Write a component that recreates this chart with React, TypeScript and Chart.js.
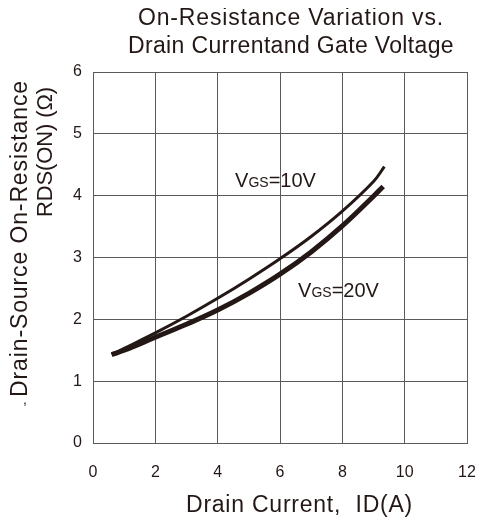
import React, { useEffect, useRef } from "react";
import { Chart, registerables } from "chart.js";

Chart.register(...registerables);

const titleLines = ["On-Resistance Variation vs.", "Drain Currentand Gate Voltage"];
const xTitle = "Drain Current,  ID(A)";
const yTitleLines = ["Drain-Source On-Resistance", "RDS(ON) (Ω)"];

const xTicks = [0, 2, 4, 6, 8, 10, 12];
const yTicks = [0, 1, 2, 3, 4, 5, 6];

const current10 = [0.6, 1, 2, 3, 4, 5, 6, 7, 8, 9, 9.35];
const rds10 = [1.43, 1.53, 1.78, 2.05, 2.34, 2.65, 2.98, 3.34, 3.75, 4.23, 4.47];
const current20 = [0.6, 1, 2, 3, 4, 5, 6, 7, 8, 9, 9.31];
const rds20 = [1.43, 1.5, 1.71, 1.92, 2.15, 2.42, 2.73, 3.09, 3.51, 3.99, 4.15];

const seriesLabels = ["10V", "20V"];
// label anchors (data coords)
const labelX = [4.56, 6.58];
const labelY = [4.14, 2.36];

const INK = "#231815";
const GRID = "#5a5a5a";
const FONT = '"Liberation Sans", Arial, sans-serif';

const W = 470;
const H = 512;

function fitText(ctx: CanvasRenderingContext2D, text: string, size: number, targetW: number) {
  ctx.font = `${size}px ${FONT}`;
  (ctx as any).letterSpacing = "0px";
  const w = ctx.measureText(text).width;
  const sp = (targetW - w) / text.length;
  (ctx as any).letterSpacing = `${sp}px`;
}

const textPlugin = {
  id: "textPlugin",
  afterDraw(chart: any) {
    const ctx: CanvasRenderingContext2D = chart.ctx;
    const o = 8; // page offset of canvas
    ctx.save();
    ctx.fillStyle = INK;
    ctx.textBaseline = "alphabetic";
    ctx.textAlign = "center";
    // title
    fitText(ctx, titleLines[0], 23, 306);
    ctx.fillText(titleLines[0], 290 - o + 1, 25 - o);
    fitText(ctx, titleLines[1], 23, 326);
    ctx.fillText(titleLines[1], 290 - o + 1, 53 - o);
    // x title
    fitText(ctx, xTitle, 23, 227);
    ctx.fillText(xTitle, 298.5 - o + 1, 512 - o);
    // y titles
    const yt = [
      { t: yTitleLines[0], size: 23, w: 317, bx: 27, cy: 238.5 },
      { t: yTitleLines[1], size: 22, w: 130, bx: 52, cy: 152 },
    ];
    for (const y of yt) {
      ctx.save();
      ctx.translate(y.bx - o, y.cy - o);
      ctx.rotate(-Math.PI / 2);
      fitText(ctx, y.t, y.size, y.w);
      ctx.fillText(y.t, 0, 0);
      ctx.restore();
    }
    // stray mark
    ctx.font = `14px ${FONT}`;
    (ctx as any).letterSpacing = "0px";
    ctx.fillText(",", 25 - o, 404 - o);

    // VGS labels
    const xs = chart.scales.x;
    const ys = chart.scales.y;
    ctx.textAlign = "left";
    (ctx as any).letterSpacing = "0px";
    for (let i = 0; i < seriesLabels.length; i++) {
      let px = xs.getPixelForValue(labelX[i]);
      const py = ys.getPixelForValue(labelY[i]);
      ctx.font = `20px ${FONT}`;
      ctx.fillText("V", px, py);
      px += ctx.measureText("V").width;
      ctx.font = `14px ${FONT}`;
      ctx.fillText("GS", px, py);
      px += ctx.measureText("GS").width;
      ctx.font = `20px ${FONT}`;
      ctx.fillText("=" + seriesLabels[i], px, py);
    }
    ctx.restore();
  },
};

export default function App() {
  const ref = useRef<HTMLCanvasElement>(null);
  useEffect(() => {
    if (!ref.current) return;
    const chart = new Chart(ref.current, {
      type: "line",
      data: {
        datasets: [
          {
            label: "VGS=10V",
            data: current10.map((x, i) => ({ x, y: rds10[i] })),
            borderColor: INK,
            borderWidth: 3,
            pointRadius: 0,
            tension: 0.4,
            borderCapStyle: "butt",
            fill: false,
          },
          {
            label: "VGS=20V",
            data: current20.map((x, i) => ({ x, y: rds20[i] })),
            borderColor: INK,
            borderWidth: 5,
            pointRadius: 0,
            tension: 0.4,
            borderCapStyle: "butt",
            fill: false,
          },
        ],
      },
      options: {
        animation: false,
        responsive: false,
        layout: { padding: { top: 64, right: 11, left: 0, bottom: 0 } },
        plugins: { legend: { display: false }, tooltip: { enabled: false }, title: { display: false } },
        scales: {
          x: {
            type: "linear",
            min: xTicks[0],
            max: xTicks[xTicks.length - 1],
            afterBuildTicks(scale: any) {
              scale.ticks = xTicks.map((v) => ({ value: v }));
            },
            ticks: { color: INK, font: { family: FONT, size: 16 }, padding: 20, maxRotation: 0, autoSkip: false },
            grid: { color: GRID, lineWidth: 1, drawTicks: false },
            border: { color: GRID, width: 1 },
            afterFit(scale: any) {
              scale.height = 77;
              scale.paddingLeft = 0;
              scale.paddingRight = 0;
            },
          },
          y: {
            type: "linear",
            min: yTicks[0],
            max: yTicks[yTicks.length - 1],
            afterBuildTicks(scale: any) {
              scale.ticks = yTicks.map((v) => ({ value: v }));
            },
            ticks: { color: INK, font: { family: FONT, size: 16 }, padding: 11, autoSkip: false },
            grid: { color: GRID, lineWidth: 1, drawTicks: false },
            border: { color: GRID, width: 1 },
            afterFit(scale: any) {
              scale.width = 85;
              scale.paddingTop = 0;
              scale.paddingBottom = 0;
            },
          },
        },
      } as any,
      plugins: [textPlugin],
    });
    return () => chart.destroy();
  }, []);
  return (
    <div style={{ position: "absolute", left: 8, top: 8, width: W, height: H }}>
      <canvas ref={ref} width={W} height={H} style={{ display: "block" }} />
    </div>
  );
}
